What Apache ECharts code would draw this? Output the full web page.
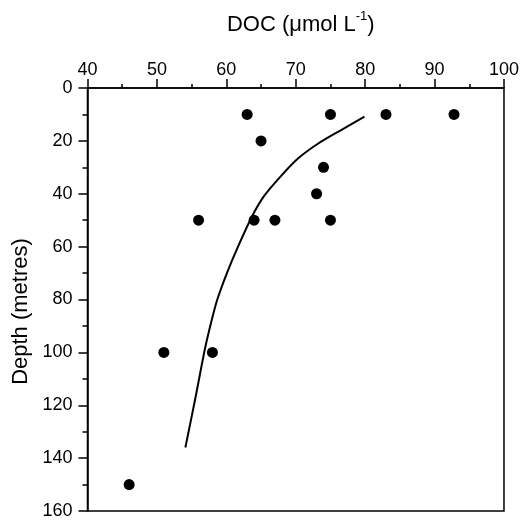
<!DOCTYPE html>
<html>
<head>
<meta charset="utf-8">
<script src="https://cdn.jsdelivr.net/npm/echarts@6/dist/echarts.min.js"></script>
<style>html,body{margin:0;padding:0;background:#fff}#c{width:522px;height:520px}</style>
</head>
<body>
<div id="c"></div>
<script>
// Observed samples
var sampleDOC   = [63, 75, 83, 92.8, 65, 74, 73, 56, 64, 67, 75, 51, 58, 46];
var sampleDepth = [10, 10, 10, 10,   20, 30, 40, 50, 50, 50, 50, 100, 100, 150];
// Fitted curve
var fitDOC   = [79.9, 76.6, 73.3, 70.4, 67.8, 65.4, 63.7, 61.7, 60.1, 58.7, 57.8, 56.9, 55.6, 54.1];
var fitDepth = [10.8, 15.8, 20.9, 26.5, 33.5, 41.0, 48.6, 59.9, 69.9, 80.0, 88.8, 98.9, 116.5, 136.0];
// Axis ticks
var docTicks = [40, 50, 60, 70, 80, 90, 100];
var depthTicks = [0, 20, 40, 60, 80, 100, 120, 140, 160];

var font = 'Liberation Sans, Arial, Helvetica, sans-serif';
var pts = sampleDOC.map(function (v, i) { return [v, sampleDepth[i]]; });
var curve = fitDOC.map(function (v, i) { return [v, fitDepth[i]]; });

var chart = echarts.init(document.getElementById('c'));
chart.setOption({
  animation: false,
  backgroundColor: '#fff',
  grid: { left: 87.5, right: 14.5, top: 88, bottom: 8, show: true, borderColor: '#000', borderWidth: 1.5, backgroundColor: 'transparent' },
  xAxis: {
    type: 'value', position: 'top',
    min: docTicks[0], max: docTicks[docTicks.length - 1], interval: 10,
    name: '{a|DOC (μmol L}{s|-1}{a|)}',
    nameLocation: 'middle', nameGap: 52,
    nameTextStyle: {
      padding: [0, 0, 0, 10],
      rich: {
        a: { fontFamily: font, fontSize: 22, color: '#000', lineHeight: 26, verticalAlign: 'bottom' },
        s: { fontFamily: font, fontSize: 13, color: '#000', lineHeight: 26, verticalAlign: 'top' }
      }
    },
    axisLine: { show: true, lineStyle: { color: '#000', width: 1.5 } },
    axisTick: { show: true, inside: false, length: 9, lineStyle: { color: '#000', width: 1.5 } },
    minorTick: { show: true, splitNumber: 2, length: 4, lineStyle: { color: '#000', width: 1.5 } },
    axisLabel: { margin: 9, fontFamily: font, fontSize: 18, color: '#000' },
    splitLine: { show: false }
  },
  yAxis: {
    type: 'value', inverse: true,
    min: depthTicks[0], max: depthTicks[depthTicks.length - 1], interval: 20,
    name: 'Depth (metres)',
    nameLocation: 'middle', nameGap: 56, nameRotate: 90,
    nameTextStyle: { fontFamily: font, fontSize: 22, color: '#000', padding: [0, 24, 0, 0] },
    axisLine: { show: true, lineStyle: { color: '#000', width: 1.5 } },
    axisTick: { show: true, inside: false, length: 9, lineStyle: { color: '#000', width: 1.5 } },
    minorTick: { show: true, splitNumber: 2, length: 5, lineStyle: { color: '#000', width: 1.5 } },
    axisLabel: { margin: 15, fontFamily: font, fontSize: 18, color: '#000' },
    splitLine: { show: false }
  },
  series: [
    {
      type: 'line', data: curve, smooth: 0.3, showSymbol: false, symbol: 'none',
      lineStyle: { color: '#000', width: 2, join: 'round' }, z: 2
    },
    {
      type: 'scatter', data: pts, symbol: 'circle', symbolSize: 11,
      itemStyle: { color: '#000', opacity: 1 }, z: 3
    }
  ]
});
</script>
</body>
</html>
